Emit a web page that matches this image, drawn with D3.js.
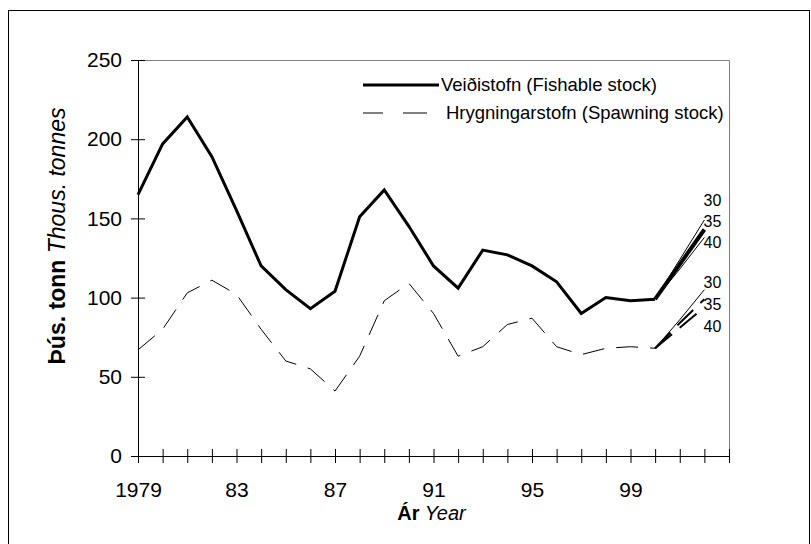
<!DOCTYPE html>
<html><head><meta charset="utf-8">
<script src="https://cdn.jsdelivr.net/npm/d3@7"></script>
<style>body{margin:0;background:#fff}svg{display:block;font-family:Arial,"Liberation Sans",sans-serif}</style>
</head><body><svg id="c" width="811" height="544"></svg>
<script>
// ---- data ----
const years = [1979,1980,1981,1982,1983,1984,1985,1986,1987,1988,1989,1990,1991,1992,1993,1994,1995,1996,1997,1998,1999,2000];
const fishable = [165,197,214,189,155,120,105,93,104,151,168,145,120,106,130,127,120,110,90,100,98,99];
const spawning = [67,80,103,111,102,80,60,55,41,63,98,109,90,63,69,83,87,69,64,68,69,68];
const projYears = [2000,2001,2002];
const fish30 = [99,124,149];
const fish35 = [99,121,143];
const fish40 = [99,118,138];
const spawn30 = [68,86,105];
const spawn35 = [68,84,99];
const spawn40 = [68,81,94];
const projLabels = ["30","35","40"];
const yTicks = [0,50,100,150,200,250];
const xTickYears = [1979,1980,1981,1982,1983,1984,1985,1986,1987,1988,1989,1990,1991,1992,1993,1994,1995,1996,1997,1998,1999,2000,2001,2002,2003];
const xLabelYears = [1979,1983,1987,1991,1995,1999];
const xLabelText = ["1979","83","87","91","95","99"];
const legendNames = ["Veiðistofn (Fishable stock)","Hrygningarstofn (Spawning stock)"];

// ---- layout ----
const svg = d3.select("#c");
const L=138, R=729, T=60, B=456;
const x = d3.scaleLinear().domain([1979,2003]).range([L,R]);
const y = d3.scaleLinear().domain([0,250]).range([B,T]);

svg.append("rect").attr("width",811).attr("height",544).attr("fill","#fff");
// outer border
svg.append("rect").attr("x",8.5).attr("y",10.5).attr("width",801).attr("height",560)
  .attr("fill","none").attr("stroke","#000").attr("stroke-width",1);

// plot frame (top/right gray)
svg.append("path").attr("d",`M${L},${T+0.5}H${R+0.5}V${B}`).attr("fill","none").attr("stroke","#808080").attr("stroke-width",1);

// axes
const xa = svg.append("g").attr("transform",`translate(0,${B})`)
  .call(d3.axisBottom(x).tickValues(xTickYears).tickSizeInner(7).tickSizeOuter(0).tickPadding(19)
    .tickFormat(d=>{const i=xLabelYears.indexOf(d);return i>=0?xLabelText[i]:"";}));
xa.selectAll(".tick line").attr("y1",-7).attr("y2",7);
const ya = svg.append("g").attr("transform",`translate(${L},0)`)
  .call(d3.axisLeft(y).tickValues(yTicks).tickSizeInner(7).tickSizeOuter(0).tickPadding(9));
ya.selectAll(".tick line").attr("x1",-7).attr("x2",7);
[xa,ya].forEach(g=>{
  g.selectAll("text").attr("font-size",21).attr("font-family","Arial,'Liberation Sans',sans-serif").attr("fill","#000");
  g.selectAll("line,path").attr("stroke","#000").attr("stroke-width",1);
});

// axis titles
const xt = svg.append("text").attr("x",(L+R)/2-2).attr("y",520).attr("text-anchor","middle").attr("font-size",20);
xt.append("tspan").attr("font-weight","bold").text("Ár");
xt.append("tspan").attr("font-style","italic").text(" Year");
const yt = svg.append("text").attr("transform","translate(64.5,236) rotate(-90)").attr("text-anchor","middle").attr("font-size",23);
yt.append("tspan").attr("font-weight","bold").text("Þús. tonn");
yt.append("tspan").attr("font-style","italic").text(" Thous. tonnes");

// lines
const line = d3.line().x(d=>x(d[0])).y(d=>y(d[1]));
const zip = (a,b)=>a.map((v,i)=>[v,b[i]]);
const g = svg.append("g");
g.append("path").attr("d",line(zip(years,spawning))).attr("fill","none").attr("stroke","#000")
  .attr("stroke-width",1).attr("stroke-dasharray","22,12");
g.append("path").attr("d",line(zip(years,fishable))).attr("fill","none").attr("stroke","#000")
  .attr("stroke-width",3).attr("stroke-linejoin","miter");

// projections
const pj = [
  {d:fish30,w:1,dash:null},{d:fish35,w:4,dash:null},{d:fish40,w:1,dash:null},
  {d:spawn30,w:1,dash:null},{d:spawn35,w:2,dash:"22,10"},{d:spawn40,w:2,dash:"22,10"}
];
pj.forEach(p=>{
  const e=g.append("path").attr("d",line(zip(projYears,p.d))).attr("fill","none").attr("stroke","#000").attr("stroke-width",p.w);
  if(p.dash) e.attr("stroke-dasharray",p.dash);
});

// projection labels
const lx = x(2002)+17;
projLabels.forEach((t,i)=>{
  svg.append("text").attr("x",lx).attr("y",y(fish30[2])-20+i*21).attr("dy","0.35em")
    .attr("text-anchor","end").attr("font-size",16).text(t);
  svg.append("text").attr("x",lx).attr("y",y(spawn30[2])-7+i*21.7).attr("dy","0.35em")
    .attr("text-anchor","end").attr("font-size",16).text(t);
});

// legend
const lg = svg.append("g");
lg.append("line").attr("x1",363).attr("x2",439).attr("y1",85).attr("y2",85).attr("stroke","#000").attr("stroke-width",3);
lg.append("line").attr("x1",363).attr("x2",427).attr("y1",113).attr("y2",113).attr("stroke","#000").attr("stroke-width",1).attr("stroke-dasharray","20,20,24");
lg.append("text").attr("x",441).attr("y",85).attr("dy","0.35em").attr("font-size",18.5).text(legendNames[0]);
lg.append("text").attr("x",446).attr("y",113).attr("dy","0.35em").attr("font-size",18.5).text(legendNames[1]);
</script></body></html>
